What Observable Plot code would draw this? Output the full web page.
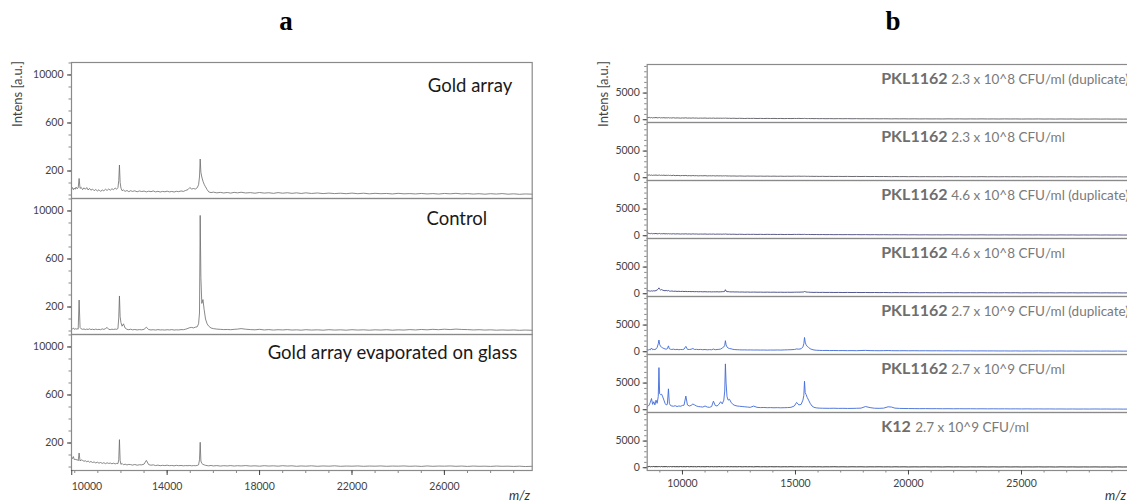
<!DOCTYPE html>
<html><head><meta charset="utf-8">
<script src="https://cdn.jsdelivr.net/npm/d3@7"></script>
<script src="https://cdn.jsdelivr.net/npm/@observablehq/plot@0.6"></script>
<style>
html,body{margin:0;padding:0;background:#fff;}
body{width:1127px;height:504px;overflow:hidden;position:relative;font-family:Lato,sans-serif;}
.abs{position:absolute;white-space:nowrap;}
#pa{width:560px;height:504px;}
#pb{width:570px;height:504px;}
#pa svg,#pb svg{max-width:none !important;}
.pl{font-family:"Liberation Serif","DejaVu Serif",serif;font-weight:bold;font-size:27px;color:#000;transform:translate(-50%,-50%);line-height:1;}
.yl{font-size:13px;color:#444;transform:translate(-50%,-50%) rotate(-90deg);line-height:1;}
.mz{font-style:italic;font-size:13px;color:#333;transform:translate(-100%,-50%);line-height:1;}
</style></head><body>
<div id="pa" class="abs" style="left:0;top:0"></div>
<div id="pb" class="abs" style="left:580px;top:0"></div>
<div class="abs pl" style="left:286px;top:21px">a</div>
<div class="abs pl" style="left:893px;top:21px">b</div>
<div class="abs yl" style="left:17px;top:94px">Intens [a.u.]</div>
<div class="abs yl" style="left:603px;top:94px">Intens [a.u.]</div>
<div class="abs mz" style="left:530px;top:495px">m/z</div>
<div class="abs mz" style="left:1126px;top:495px">m/z</div>
<script>
// ---------- Panel a ----------
const mzA = [
  9860, 9900, 9940, 9980, 10020, 10060, 10100, 10150, 10190, 10230,
  10280, 10340, 10400, 10460, 10520, 10580, 10640, 10700, 10770, 10840,
  10910, 10980, 11050, 11120, 11190, 11260, 11330, 11400, 11470, 11540,
  11610, 11680, 11750, 11810, 11870, 11905, 11935, 11965, 12000, 12050,
  12110, 12180, 12260, 12340, 12420, 12500, 12600, 12700, 12800, 12900,
  13000, 13100, 13200, 13300, 13400, 13500, 13600, 13700, 13800, 13900,
  14000, 14100, 14200, 14300, 14400, 14500, 14600, 14700, 14800, 14900,
  14980, 15060, 15140, 15220, 15300, 15360, 15400, 15430, 15460, 15500,
  15550, 15600, 15660, 15730, 15800, 15900, 16000, 16150, 16300, 16450,
  16600, 16750, 16900, 17050, 17200, 17400, 17600, 17800, 18000, 18200,
  18400, 18600, 18800, 19000, 19200, 19400, 19600, 19800, 20000, 20250,
  20500, 20750, 21000, 21250, 21500, 21750, 22000, 22250, 22500, 22750,
  23000, 23250, 23500, 23750, 24000, 24250, 24500, 24750, 25000, 25250,
  25500, 25750, 26000, 26250, 26500, 26750, 27000, 27250, 27500, 27750,
  28000, 28250, 28500, 28750, 29000, 29250, 29500, 29800
];
const goldArray = [
  50, 62, 44, 58, 48, 66, 52, 60, 138, 55,
  64, 45, 60, 48, 62, 42, 55, 40, 50, 36,
  46, 34, 44, 30, 42, 35, 48, 38, 50, 40,
  52, 45, 58, 48, 62, 120, 250, 105, 58, 36,
  42, 30, 38, 28, 36, 30, 35, 27, 34, 29,
  33, 26, 32, 28, 34, 26, 31, 25, 30, 27,
  32, 26, 30, 25, 31, 28, 34, 30, 38, 45,
  62, 50, 54, 50, 60, 85, 150, 300, 190, 150,
  115, 90, 68, 45, 26, 20, 24, 18, 22, 17,
  21, 16, 22, 18, 23, 17, 20, 15, 21, 16,
  19, 14, 20, 15, 19, 14, 18, 13, 18, 13,
  17, 12, 16, 12, 15, 11, 16, 11, 15, 10,
  14, 11, 13, 9, 14, 10, 12, 9, 13, 9,
  12, 8, 13, 10, 14, 9, 12, 8, 11, 7,
  11, 8, 12, 7, 10, 6, 9, 7
];
const control = [
  22, 18, 25, 14, 20, 15, 19, 16, 258, 30,
  18, 14, 17, 12, 16, 13, 18, 12, 15, 11,
  16, 12, 14, 11, 18, 13, 20, 30, 14, 12,
  15, 13, 16, 14, 20, 110, 292, 120, 70, 40,
  60, 25, 14, 11, 15, 10, 13, 9, 12, 10,
  14, 32, 12, 9, 11, 8, 12, 9, 10, 8,
  11, 9, 12, 8, 10, 9, 12, 11, 15, 22,
  28, 30, 26, 32, 35, 60, 150, 963, 446, 230,
  262, 180, 100, 60, 40, 25, 20, 16, 14, 12,
  13, 11, 14, 16, 20, 15, 12, 10, 14, 9,
  12, 8, 11, 9, 12, 8, 10, 7, 11, 8,
  10, 7, 11, 8, 10, 7, 11, 8, 10, 7,
  10, 8, 11, 7, 10, 8, 12, 9, 13, 10,
  14, 11, 15, 12, 16, 13, 12, 9, 11, 8,
  10, 7, 9, 7, 9, 6, 8, 6
];
const evaporated = [
  81, 70, 87, 62, 66, 58, 64, 52, 117, 50,
  60, 55, 48, 52, 44, 50, 40, 46, 38, 42,
  34, 40, 32, 38, 30, 36, 28, 35, 30, 33,
  27, 32, 26, 30, 28, 60, 228, 55, 22, 30,
  18, 24, 17, 22, 20, 16, 21, 15, 19, 18,
  24, 55, 20, 15, 18, 12, 16, 11, 14, 12,
  15, 11, 13, 10, 14, 11, 13, 10, 12, 11,
  13, 10, 12, 11, 13, 18, 60, 206, 50, 30,
  22, 18, 14, 12, 10, 13, 9, 12, 8, 11,
  9, 12, 8, 11, 9, 12, 8, 10, 7, 11,
  8, 10, 7, 11, 8, 10, 6, 9, 7, 10,
  6, 9, 7, 10, 6, 8, 7, 9, 6, 8,
  7, 9, 6, 8, 7, 9, 6, 8, 5, 9,
  6, 8, 7, 9, 6, 8, 5, 8, 6, 7,
  5, 8, 6, 7, 5, 7, 4, 6
];
const panelsA = ["Gold array", "Control", "Gold array evaporated on glass"];
const yTicksA = [200, 600, 1000];
const yTickLabelsA = ["200", "600", "10000"];
const xTicksA = [10000, 14000, 18000, 22000, 26000];

// ---------- Panel b ----------
const mzB = [
  8440, 8480, 8530, 8580, 8630, 8680, 8730, 8780, 8830, 8880,
  8930, 8960, 8990, 9030, 9080, 9130, 9180, 9230, 9280, 9330,
  9380, 9420, 9470, 9530, 9600, 9680, 9760, 9840, 9920, 10000,
  10070, 10150, 10220, 10300, 10380, 10460, 10540, 10620, 10700, 10800,
  10900, 11000, 11100, 11200, 11290, 11370, 11450, 11530, 11610, 11690,
  11760, 11830, 11870, 11900, 11930, 11970, 12020, 12080, 12150, 12230,
  12320, 12420, 12520, 12640, 12760, 12880, 13000, 13150, 13300, 13450,
  13600, 13750, 13900, 14050, 14200, 14350, 14500, 14650, 14800, 14950,
  15050, 15150, 15250, 15330, 15370, 15400, 15430, 15470, 15520, 15580,
  15650, 15730, 15820, 15920, 16050, 16200, 16350, 16500, 16700, 16900,
  17100, 17300, 17500, 17700, 17900, 18100, 18300, 18500, 18700, 18900,
  19100, 19250, 19400, 19600, 19800, 20000, 20250, 20500, 20750, 21000,
  21250, 21500, 21750, 22000, 22250, 22500, 22750, 23000, 23250, 23500,
  23750, 24000, 24250, 24500, 24750, 25000, 25250, 25500, 25750, 26000,
  26250, 26500, 26750, 27000, 27250, 27500, 27750, 28000, 28250, 28500,
  28750, 29000, 29250, 29500, 29750, 30000
];
const pkl23dup = [
  420, 380, 450, 360, 410, 340, 400, 370, 430, 350,
  390, 360, 420, 340, 380, 350, 400, 330, 370, 345,
  390, 330, 360, 320, 380, 310, 350, 330, 300, 340,
  310, 360, 300, 330, 290, 340, 300, 320, 280, 310,
  290, 320, 270, 300, 280, 310, 260, 300, 280, 290,
  270, 300, 280, 310, 270, 290, 260, 280, 250, 275,
  260, 240, 270, 250, 230, 260, 240, 255, 230, 250,
  225, 250, 230, 245, 220, 240, 215, 235, 220, 240,
  230, 250, 225, 240, 230, 250, 235, 225, 215, 230,
  210, 225, 205, 220, 200, 215, 195, 210, 190, 205,
  190, 205, 185, 200, 180, 195, 175, 190, 170, 185,
  175, 160, 180, 165, 175, 155, 170, 150, 165, 150,
  160, 145, 165, 150, 160, 140, 155, 145, 160, 140,
  150, 135, 155, 140, 150, 130, 145, 135, 150, 130,
  140, 125, 145, 130, 140, 120, 135, 125, 140, 120,
  135, 120, 130, 115, 125, 120
];
const pkl23 = [
  520, 470, 540, 450, 500, 430, 490, 460, 520, 440,
  480, 450, 500, 430, 470, 440, 490, 420, 460, 430,
  470, 420, 450, 400, 460, 390, 430, 410, 380, 420,
  390, 430, 370, 400, 360, 410, 370, 390, 350, 380,
  360, 390, 340, 370, 350, 380, 330, 370, 340, 360,
  330, 360, 340, 370, 330, 350, 320, 340, 310, 330,
  320, 300, 330, 310, 290, 320, 300, 310, 285, 305,
  280, 300, 275, 295, 270, 290, 265, 285, 270, 290,
  275, 295, 270, 285, 275, 290, 280, 270, 260, 275,
  255, 270, 250, 265, 245, 260, 240, 255, 235, 250,
  235, 250, 230, 245, 225, 240, 220, 235, 215, 230,
  215, 200, 220, 205, 215, 195, 210, 190, 205, 190,
  200, 185, 205, 190, 200, 180, 195, 185, 200, 180,
  190, 175, 195, 180, 190, 170, 185, 175, 190, 170,
  180, 165, 185, 170, 180, 160, 175, 165, 180, 160,
  175, 160, 170, 155, 165, 160
];
const pkl46dup = [
  700, 480, 420, 380, 440, 360, 410, 380, 430, 350,
  400, 370, 430, 350, 390, 360, 410, 340, 380, 350,
  390, 340, 370, 330, 380, 320, 360, 340, 310, 350,
  320, 360, 310, 340, 300, 350, 310, 330, 290, 320,
  300, 330, 280, 310, 290, 320, 270, 310, 290, 300,
  280, 310, 290, 330, 300, 290, 270, 290, 260, 285,
  270, 250, 280, 260, 240, 270, 250, 265, 240, 260,
  235, 260, 240, 255, 230, 250, 225, 245, 230, 250,
  240, 260, 235, 250, 240, 260, 245, 235, 225, 240,
  220, 235, 215, 230, 210, 225, 205, 220, 200, 215,
  200, 215, 195, 210, 190, 205, 185, 200, 180, 195,
  185, 170, 190, 175, 185, 165, 180, 160, 175, 160,
  170, 155, 175, 160, 170, 150, 165, 155, 170, 150,
  160, 145, 165, 150, 160, 140, 155, 145, 160, 140,
  150, 135, 155, 140, 150, 130, 145, 135, 150, 130,
  145, 130, 140, 125, 135, 130
];
const pkl46 = [
  650, 560, 520, 480, 540, 500, 560, 520, 600, 700,
  900, 1100, 850, 700, 780, 650, 600, 560, 620, 540,
  620, 500, 470, 520, 450, 480, 430, 460, 420, 450,
  410, 440, 400, 420, 390, 410, 380, 400, 370, 390,
  360, 380, 350, 370, 340, 360, 350, 370, 340, 360,
  380, 400, 450, 750, 500, 380, 400, 360, 340, 350,
  330, 340, 310, 330, 300, 320, 290, 310, 290, 300,
  280, 300, 275, 290, 270, 285, 265, 280, 270, 285,
  300, 290, 310, 320, 340, 420, 380, 330, 300, 290,
  270, 260, 250, 265, 245, 255, 240, 250, 235, 245,
  230, 245, 225, 240, 220, 235, 215, 230, 210, 225,
  210, 195, 215, 200, 210, 190, 205, 185, 200, 185,
  195, 180, 200, 185, 195, 175, 190, 180, 195, 175,
  185, 170, 190, 175, 185, 165, 180, 170, 185, 165,
  175, 160, 180, 165, 175, 155, 170, 160, 175, 155,
  170, 155, 165, 150, 160, 155
];
const pkl27dup = [
  380, 300, 420, 350, 700, 380, 450, 400, 520, 800,
  1500, 2190, 1400, 1000, 850, 700, 600, 520, 480, 560,
  1100, 550, 460, 420, 480, 400, 450, 380, 420, 400,
  480, 1000, 450, 420, 460, 600, 420, 450, 400, 430,
  380, 420, 360, 400, 370, 500, 380, 420, 450, 500,
  700, 900, 1200, 2070, 1300, 900, 700, 600, 550, 450,
  400, 380, 360, 340, 350, 330, 340, 320, 330, 310,
  320, 300, 320, 310, 330, 310, 340, 360, 380, 420,
  520, 480, 560, 900, 1500, 2670, 1800, 1300, 1000, 800,
  560, 420, 330, 280, 250, 230, 240, 220, 230, 210,
  220, 200, 215, 195, 230, 250, 210, 200, 190, 205,
  220, 200, 190, 185, 195, 180, 190, 175, 185, 170,
  180, 165, 175, 160, 170, 155, 165, 150, 160, 150,
  155, 140, 150, 135, 150, 130, 145, 135, 150, 130,
  145, 130, 140, 125, 135, 120, 130, 120, 135, 120,
  130, 115, 125, 110, 120, 115
];
const pkl27 = [
  500, 650, 900, 1400, 2100, 1000, 1500, 900, 1800, 1200,
  2500, 7900, 3000, 2850, 2900, 2400, 1800, 1200, 900, 1000,
  3920, 1200, 800, 700, 650, 750, 600, 700, 650, 800,
  850, 2560, 900, 700, 800, 1070, 900, 700, 600, 550,
  500, 700, 500, 450, 600, 1600, 800, 700, 1000, 1500,
  1100, 1800, 3500, 8600, 5000, 2500, 1800, 1960, 1400, 1000,
  800, 700, 650, 600, 550, 500, 450, 680, 450, 400,
  420, 380, 400, 370, 390, 360, 380, 400, 450, 700,
  1370, 900, 1000, 1800, 2700, 5340, 3200, 2850, 2300, 1800,
  1200, 700, 450, 350, 300, 280, 270, 260, 280, 250,
  260, 240, 250, 270, 300, 600, 400, 280, 260, 300,
  550, 500, 300, 250, 230, 220, 210, 200, 210, 195,
  200, 185, 195, 180, 190, 175, 185, 170, 180, 165,
  175, 160, 170, 155, 165, 150, 160, 145, 155, 140,
  150, 135, 145, 130, 140, 125, 135, 125, 140, 125,
  135, 120, 130, 115, 125, 120
];
const k12 = [
  230, 180, 250, 170, 220, 190, 240, 175, 210, 185,
  230, 170, 220, 180, 240, 175, 215, 185, 225, 170,
  210, 180, 230, 170, 215, 185, 200, 175, 220, 180,
  205, 175, 225, 170, 210, 185, 200, 170, 215, 180,
  200, 170, 215, 175, 205, 180, 195, 170, 210, 175,
  200, 170, 210, 180, 195, 175, 205, 170, 200, 175,
  190, 170, 205, 165, 195, 175, 190, 165, 200, 170,
  185, 165, 195, 170, 190, 160, 185, 170, 195, 165,
  185, 170, 190, 165, 185, 175, 180, 165, 190, 170,
  180, 160, 185, 165, 180, 155, 175, 165, 185, 160,
  175, 155, 180, 160, 175, 150, 170, 160, 180, 155,
  170, 150, 175, 155, 170, 145, 165, 150, 170, 150,
  165, 145, 170, 150, 165, 140, 160, 150, 165, 145,
  160, 140, 165, 145, 160, 140, 155, 145, 160, 140,
  155, 135, 160, 140, 155, 135, 150, 140, 155, 135,
  150, 130, 155, 135, 150, 140
];
const strainsB = ["PKL1162", "PKL1162", "PKL1162", "PKL1162", "PKL1162", "PKL1162", "K12"];
const concB = [
  "2.3 x 10^8 CFU/ml (duplicate)",
  "2.3 x 10^8 CFU/ml",
  "4.6 x 10^8 CFU/ml (duplicate)",
  "4.6 x 10^8 CFU/ml",
  "2.7 x 10^9 CFU/ml (duplicate)",
  "2.7 x 10^9 CFU/ml",
  "2.7 x 10^9 CFU/ml"
];
const yTicksB = [0, 5000];
const xTicksB = [10000, 15000, 20000, 25000];

// ---------- build tables ----------
const seriesA = [goldArray, control, evaporated];
seriesA.forEach((s, i) => { if (s.length !== mzA.length) throw new Error("A" + i + " length " + s.length + " vs " + mzA.length); });
const rowsA = panelsA.flatMap((p, i) => mzA.map((mz, j) => ({panel: p, mz, intensity: seriesA[i][j]})));

const seriesB = [pkl23dup, pkl23, pkl46dup, pkl46, pkl27dup, pkl27, k12];
seriesB.forEach((s, i) => { if (s.length !== mzB.length) throw new Error("B" + i + " length " + s.length + " vs " + mzB.length); });
const keysB = strainsB.map((s, i) => s + " " + concB[i] + " #" + i);
const rowsB = keysB.flatMap((k, i) => mzB.map((mz, j) => ({key: k, mz, intensity: seriesB[i][j]})));
const labelsB = keysB.map((k, i) => ({key: k, strain: strainsB[i], conc: concB[i]}));
const colorsB = ["#5a5a62", "#5a5a62", "#4a4a80", "#3e4585", "#3f6ad8", "#3f6ad8", "#222222"];

const labelA = new Map(yTicksA.map((t, i) => [t, yTickLabelsA[i]]));
const baseStyle = {fontFamily: "Lato, sans-serif", fontSize: "10.5px", color: "#444", background: "transparent", overflow: "visible", maxWidth: "none"};

const plotA = Plot.plot({
  width: 560, height: 504,
  marginTop: 61, marginBottom: 32.3, marginLeft: 71, marginRight: 28.3,
  style: baseStyle,
  x: {domain: [9860, 29800], label: null},
  y: {domain: [-29, 1104], label: null},
  fy: {domain: panelsA, padding: 0, axis: null, label: null},
  marks: [
    Plot.lineY(rowsA, {x: "mz", y: "intensity", fy: "panel", stroke: "#6b6b6b", strokeWidth: 0.8}),
    Plot.frame({stroke: "#8a8a8a", strokeWidth: 1.2}),
    Plot.axisY(d3.range(0, 1101, 100), {tickSize: 2.5, tickFormat: () => "", color: "#888"}),
    Plot.axisY(yTicksA, {tickSize: 4, tickPadding: 4, tickFormat: d => labelA.get(d)}),
    Plot.axisX(d3.range(10000, 29001, 1000), {tickSize: 3, tickFormat: () => "", color: "#888"}),
    Plot.axisX(xTicksA.slice(1), {tickSize: 5, tickPadding: 7.5, tickFormat: d => String(d)}),
    Plot.axisX(xTicksA.slice(0, 1), {tickSize: 5, tickPadding: 7.5, tickFormat: d => String(d), textAnchor: "start", dx: -3}),
    Plot.text([panelsA[0]], {fy: d => d, text: d => d, frameAnchor: "top-right", dx: -20, dy: 24, textAnchor: "end", lineAnchor: "middle", fontSize: 18.5, fill: "#1a1a1a"}),
    Plot.text([panelsA[1]], {fy: d => d, text: d => d, frameAnchor: "top-right", dx: -45, dy: 21, textAnchor: "end", lineAnchor: "middle", fontSize: 18.5, fill: "#1a1a1a"}),
    Plot.text([panelsA[2]], {fy: d => d, text: d => d, frameAnchor: "top-right", dx: -15, dy: 18.5, textAnchor: "end", lineAnchor: "middle", fontSize: 18.5, fill: "#1a1a1a"})
  ]
});
document.getElementById("pa").appendChild(plotA);

const plotB = Plot.plot({
  width: 570, height: 504,
  marginTop: 60.7, marginBottom: 30.7, marginLeft: 66.7, marginRight: 16,
  style: baseStyle,
  x: {domain: [8440, 30000], label: null},
  y: {domain: [-520, 10360], label: null},
  fy: {domain: keysB, padding: 0, axis: null, label: null},
  color: {domain: keysB, range: colorsB},
  marks: [
    Plot.lineY(rowsB, {x: "mz", y: "intensity", fy: "key", stroke: "key", strokeWidth: 0.9}),
    Plot.frame({stroke: "#8a8a8a", strokeWidth: 1.2}),
    Plot.axisY(d3.range(0, 10001, 1000), {tickSize: 2.5, tickFormat: () => "", color: "#888"}),
    Plot.axisY(yTicksB, {tickSize: 4, tickPadding: 3.4, tickFormat: d => String(d)}),
    Plot.axisX(d3.range(9000, 30001, 1000), {tickSize: 2.5, tickFormat: () => "", color: "#888"}),
    Plot.axisX(xTicksB, {tickSize: 4.5, tickPadding: 5, tickFormat: d => String(d)}),
    Plot.text(labelsB, {fy: "key", text: "strain", frameAnchor: "top-left", dx: 234, dy: 14, textAnchor: "start", lineAnchor: "middle", fontSize: 16, fontWeight: "bold", fill: "#6e6e6e"}),
    Plot.text(labelsB.filter(d => d.strain === "PKL1162"), {fy: "key", text: "conc", frameAnchor: "top-left", dx: 304, dy: 15, textAnchor: "start", lineAnchor: "middle", fontSize: 13.5, fill: "#7a7a7a"}),
    Plot.text(labelsB.filter(d => d.strain === "K12"), {fy: "key", text: "conc", frameAnchor: "top-left", dx: 268, dy: 15, textAnchor: "start", lineAnchor: "middle", fontSize: 13.5, fill: "#7a7a7a"})
  ]
});
document.getElementById("pb").appendChild(plotB);
</script>
</body></html>
